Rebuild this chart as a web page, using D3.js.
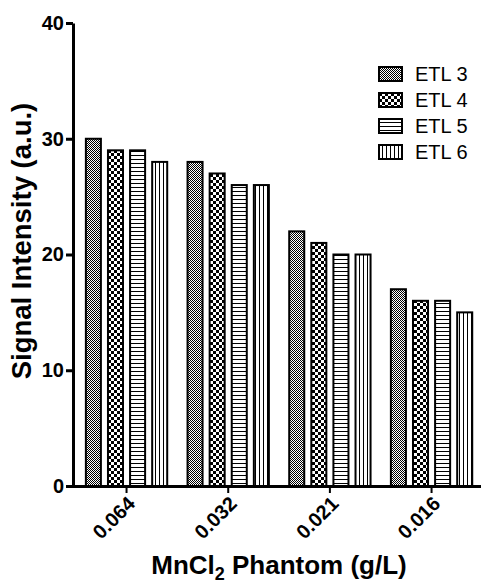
<!DOCTYPE html>
<html>
<head>
<meta charset="utf-8">
<script src="https://cdn.jsdelivr.net/npm/d3@7"></script>
<style>
  body { margin: 0; background: #fff; }
  svg { display: block; font-family: Arial, "Liberation Sans", sans-serif; }
</style>
</head>
<body>
<script>
const categories = ["0.064", "0.032", "0.021", "0.016"];
const series = ["ETL 3", "ETL 4", "ETL 5", "ETL 6"];
const etl3 = [30, 28, 22, 17];
const etl4 = [29, 27, 21, 16];
const etl5 = [29, 26, 20, 16];
const etl6 = [28, 26, 20, 15];
const yTicks = [0, 10, 20, 30, 40];

const values = [etl3, etl4, etl5, etl6];
const rows = categories.flatMap((c, i) =>
  series.map((s, j) => ({ cat: c, series: s, k: j, value: values[j][i] })));

const width = 481, height = 583;
const svg = d3.select("body").append("svg")
  .attr("width", width).attr("height", height);

// fill patterns
const defs = svg.append("defs");
function pat(id, w, h, draw) {
  const p = defs.append("pattern").attr("id", id)
    .attr("patternUnits", "userSpaceOnUse").attr("width", w).attr("height", h);
  p.append("rect").attr("width", w).attr("height", h).attr("fill", "#fff");
  draw(p);
}
pat("p0", 2, 2, p => {
  p.append("rect").attr("width", 1).attr("height", 1).attr("fill", "#000");
  p.append("rect").attr("x", 1).attr("y", 1).attr("width", 1).attr("height", 1).attr("fill", "#000");
});
pat("p1", 6, 6, p => {
  p.append("rect").attr("width", 3).attr("height", 3).attr("fill", "#000");
  p.append("rect").attr("x", 3).attr("y", 3).attr("width", 3).attr("height", 3).attr("fill", "#000");
});
pat("p2", 4, 4, p => {
  p.append("rect").attr("y", 3).attr("width", 4).attr("height", 1).attr("fill", "#000");
});
pat("p3", 4, 4, p => {
  p.append("rect").attr("x", 3).attr("width", 1).attr("height", 4).attr("fill", "#000");
});

const x0 = d3.scaleBand().domain(categories).range([75.7, 482.4]).paddingInner(0.2).paddingOuter(0.1);
const x1 = d3.scaleBand().domain(series).range([0, x0.bandwidth()]).paddingInner(0.32);
const y = d3.scaleLinear().domain([0, 40]).range([486, 23]);

svg.append("g").selectAll("rect").data(rows).join("rect")
  .attr("x", d => x0(d.cat) + x1(d.series))
  .attr("y", d => y(d.value))
  .attr("width", x1.bandwidth())
  .attr("height", d => y(0) - y(d.value))
  .attr("fill", d => `url(#p${d.k})`)
  .attr("stroke", "#000").attr("stroke-width", 2);

// y axis
const yAxis = svg.append("g").attr("transform", "translate(73,0)")
  .call(d3.axisLeft(y).tickValues(yTicks).tickSize(7).tickPadding(2).tickSizeOuter(0));
yAxis.select(".domain").attr("stroke-width", 3);
yAxis.selectAll(".tick line").attr("stroke-width", 3);
yAxis.selectAll("text").attr("font-size", 20).attr("font-weight", "bold").attr("fill", "#000");

// x axis
const xAxis = svg.append("g").attr("transform", `translate(0,${y(0)})`)
  .call(d3.axisBottom(x0).tickSize(7).tickSizeOuter(0));
xAxis.select(".domain").attr("d", `M71.5,0.5H${width + 5}`).attr("stroke-width", 3);
xAxis.selectAll(".tick line").attr("stroke-width", 2);
xAxis.selectAll("text")
  .attr("font-size", 20).attr("font-weight", "bold").attr("fill", "#000")
  .attr("text-anchor", "end").attr("x", 0).attr("y", 0).attr("dy", "0.35em")
  .attr("transform", "translate(5,14) rotate(-45)");

// axis titles
svg.append("text")
  .attr("transform", "translate(31,241) rotate(-90)")
  .attr("text-anchor", "middle").attr("font-size", 27.5).attr("font-weight", "bold")
  .text("Signal Intensity (a.u.)");

const xt = svg.append("text").attr("x", 279).attr("y", 574)
  .attr("text-anchor", "middle").attr("font-size", 26).attr("font-weight", "bold");
xt.append("tspan").text("MnCl");
xt.append("tspan").attr("font-size", 18).attr("dy", 6).text("2");
xt.append("tspan").attr("dy", -6).text(" Phantom (g/L)");

// legend
const lg = svg.append("g").selectAll("g").data(series).join("g")
  .attr("transform", (d, i) => `translate(379,${67 + i * 26})`);
lg.append("rect").attr("width", 23).attr("height", 14)
  .attr("fill", (d, i) => `url(#p${i})`).attr("stroke", "#000").attr("stroke-width", 2);
lg.append("text").attr("x", 36).attr("y", 7).attr("dy", "0.36em")
  .attr("font-size", 20).text(d => d);
</script>
</body>
</html>
